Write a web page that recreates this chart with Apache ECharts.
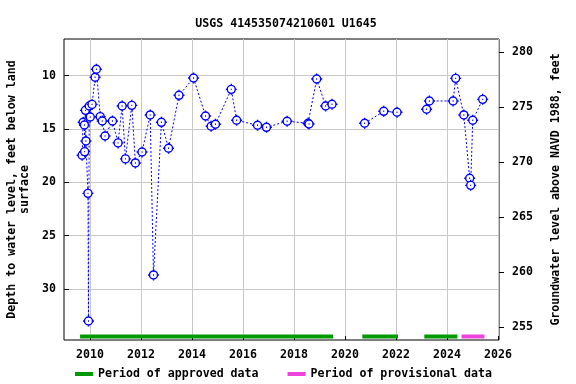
<!DOCTYPE html>
<html>
<head>
<meta charset="utf-8">
<script src="https://cdn.jsdelivr.net/npm/echarts@6/dist/echarts.min.js"></script>
<style>html,body{margin:0;padding:0;background:#fff}#c{width:576px;height:384px}</style>
</head>
<body>
<div id="c"></div>
<script>
// ---- data (decimal years, depth in feet below land surface) ----
var years = [2009.69, 2009.73, 2009.78, 2009.79, 2009.82, 2009.84, 2009.92, 2009.94, 2009.97, 2010.01,
  2010.08, 2010.20, 2010.25, 2010.40, 2010.48, 2010.59, 2010.88, 2011.10, 2011.26, 2011.39,
  2011.64, 2011.78, 2012.04, 2012.36, 2012.49, 2012.80, 2013.08, 2013.49, 2014.06, 2014.53,
  2014.75, 2014.92, 2015.54, 2015.75, 2016.57, 2016.92, 2017.73, 2018.55, 2018.59, 2018.89,
  2019.24, 2019.49, 2020.77, 2021.52, 2022.04, 2023.20, 2023.31, 2024.24, 2024.34, 2024.66,
  2024.89, 2024.93, 2025.01, 2025.40];
var depths = [17.46, 14.37, 14.62, 17.12, 13.25, 16.12, 21.03, 33.0, 12.84, 13.87,
  12.69, 10.15, 9.4, 13.84, 14.25, 15.65, 14.25, 16.3, 12.84, 17.8,
  12.78, 18.18, 17.15, 13.68, 28.68, 14.37, 16.8, 11.84, 10.22, 13.78,
  14.74, 14.55, 11.28, 14.18, 14.65, 14.84, 14.27, 14.46, 14.53, 10.31,
  12.84, 12.68, 14.46, 13.34, 13.43, 13.15, 12.37, 12.37, 10.25, 13.68,
  19.62, 20.28, 14.18, 12.22];
var lineBreaks = [2020.0, 2022.6];   // gaps in the record (line not connected)
var approvedPeriods = [[2009.61, 2019.53], [2020.68, 2022.08], [2023.11, 2024.41]];
var provisionalPeriods = [[2024.57, 2025.47]];
var periodBarDepth = 34.45;
var xTicks = [2010, 2012, 2014, 2016, 2018, 2020, 2022, 2024, 2026];
var leftTicks = [10, 15, 20, 25, 30];
var rightTicks = [255, 260, 265, 270, 275, 280];

// ---- build series data ----
var pts = [];
var bi = 0;
for (var i = 0; i < years.length; i++) {
  while (bi < lineBreaks.length && lineBreaks[bi] < years[i]) { pts.push([lineBreaks[bi], '-']); bi++; }
  pts.push([years[i], depths[i]]);
}
function periodData(periods) {
  var d = [];
  periods.forEach(function (p, k) {
    if (k > 0) d.push([(periods[k - 1][1] + p[0]) / 2, '-']);
    d.push([p[0], periodBarDepth]); d.push([p[1], periodBarDepth]);
  });
  return d;
}

var FONT = 'DejaVu Sans Mono';
var txt = { fontFamily: FONT, fontWeight: 'bold', fontSize: 11.6, color: '#000' };
var sym = 'path://M4 0C4 2.209 2.209 4 0 4C-2.209 4 -4 2.209 -4 0C-4 -2.209 -2.209 -4 0 -4C2.209 -4 4 -2.209 4 0Z' +
  'M0 -4L0 -5.5M0 4L0 5.5M-4 0L-5.5 0M4 0L5.5 0M-0.5 0L0.5 0';

var chart = echarts.init(document.getElementById('c'), null, { renderer: 'canvas' });
chart.setOption({
  animation: false,
  backgroundColor: '#fff',
  title: {
    text: 'USGS 414535074210601 U1645', left: 281, top: 13, textAlign: 'center',
    textStyle: { fontFamily: FONT, fontWeight: 'bold', fontSize: 11.6, color: '#000' }
  },
  legend: {
    left: 75, top: 368, itemWidth: 18, itemHeight: 4, itemGap: 29, icon: 'rect',
    textStyle: txt, padding: 0,
    data: ['Period of approved data', 'Period of provisional data']
  },
  grid: { left: 64, right: 77, top: 39, bottom: 44, show: true, borderColor: '#000', borderWidth: 1,
    backgroundColor: 'transparent', containLabel: false, outerBoundsMode: 'none' },
  xAxis: {
    type: 'value', min: 2008.98, max: 2026.04,
    axisLine: { show: false },
    axisTick: { show: true, inside: true, length: 4, customValues: xTicks, lineStyle: { color: '#000' } },
    axisLabel: { customValues: xTicks, margin: 9, ...txt, formatter: function (v) { return String(v); } },
    splitLine: { show: true, lineStyle: { color: '#c8c8c8', width: 1 } }
  },
  yAxis: [{
    type: 'value', inverse: true, min: 6.56, max: 34.78, position: 'left',
    name: 'Depth to water level, feet below land\nsurface', nameLocation: 'middle', nameGap: 33,
    nameTextStyle: { ...txt, lineHeight: 13 },
    axisLine: { show: false },
    axisTick: { show: true, inside: true, length: 5, customValues: leftTicks, lineStyle: { color: '#000' } },
    axisLabel: { customValues: leftTicks, margin: 8, ...txt },
    splitLine: { show: true, lineStyle: { color: '#c8c8c8', width: 1 } }
  }, {
    type: 'value', min: 253.85, max: 281.2, position: 'right',
    name: 'Groundwater level above NAVD 1988, feet', nameLocation: 'middle', nameGap: 51,
    nameTextStyle: { ...txt },
    axisLine: { show: false },
    axisTick: { show: true, inside: false, length: 5, customValues: rightTicks, lineStyle: { color: '#000' } },
    axisLabel: { customValues: rightTicks, margin: 13, ...txt },
    splitLine: { show: false }
  }],
  series: [{
    name: 'water level', type: 'line', yAxisIndex: 0, data: pts, connectNulls: false,
    symbol: sym, symbolSize: 11, showAllSymbol: true,
    lineStyle: { color: '#0000ff', width: 1, type: [2, 2] },
    itemStyle: { color: '#ffffff', borderColor: '#0000ff', borderWidth: 1.4 },
    z: 5
  }, {
    name: 'Period of approved data', type: 'line', yAxisIndex: 0, data: periodData(approvedPeriods),
    symbol: 'none', connectNulls: false, lineStyle: { color: '#009900', width: 4, cap: 'butt' },
    itemStyle: { color: '#009900' }, z: 3
  }, {
    name: 'Period of provisional data', type: 'line', yAxisIndex: 0, data: periodData(provisionalPeriods),
    symbol: 'none', connectNulls: false, lineStyle: { color: '#ee44dd', width: 4, cap: 'butt' },
    itemStyle: { color: '#ee44dd' }, z: 3
  }]
});
</script>
</body>
</html>
